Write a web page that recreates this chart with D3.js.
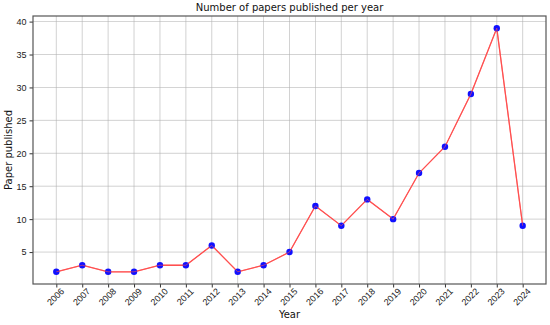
<!DOCTYPE html>
<html><head><meta charset="utf-8">
<script src="https://cdn.jsdelivr.net/npm/d3@7"></script>
<style>body{margin:0;background:#fff;}svg{display:block;font-family:"DejaVu Sans",sans-serif;}</style>
</head><body><svg id="c" width="550" height="325"></svg>
<script>
const years = [2006,2007,2008,2009,2010,2011,2012,2013,2014,2015,2016,2017,2018,2019,2020,2021,2022,2023,2024];
const papers = [2,3,2,2,3,3,6,2,3,5,12,9,13,10,17,21,29,39,9];
const yTicks = [5,10,15,20,25,30,35,40];

const svg = d3.select("#c");
const L=33,R=546,T=16,B=284;
const x = d3.scaleLinear().domain([2005.1,2024.9]).range([L,R]);
const y = d3.scaleLinear().domain([0.15,40.85]).range([B,T]);

// grid
svg.append("g").selectAll("line").data(years).join("line")
  .attr("x1",d=>x(d)).attr("x2",d=>x(d)).attr("y1",T).attr("y2",B)
  .attr("stroke","#b0b0b0").attr("stroke-width",0.8).attr("opacity",0.7);
svg.append("g").selectAll("line").data(yTicks).join("line")
  .attr("x1",L).attr("x2",R).attr("y1",d=>y(d)).attr("y2",d=>y(d))
  .attr("stroke","#b0b0b0").attr("stroke-width",0.8).attr("opacity",0.7);

// axes
const xa = svg.append("g").attr("transform",`translate(0,${B})`)
  .call(d3.axisBottom(x).tickValues(years).tickFormat(d3.format("d")).tickSize(3.5));
xa.select(".domain").remove();
xa.selectAll("line").attr("stroke","#333");
xa.selectAll("text").attr("font-size",9).attr("fill","#222")
  .attr("text-anchor","middle").attr("dy",null).attr("y",null)
  .attr("transform","translate(1,15) rotate(-45)");
const ya = svg.append("g").attr("transform",`translate(${L},0)`)
  .call(d3.axisLeft(y).tickValues(yTicks).tickSize(3.5).tickPadding(3));
ya.select(".domain").remove();
ya.selectAll("line").attr("stroke","#333");
ya.selectAll("text").attr("font-size",9).attr("fill","#222");

// frame
svg.append("rect").attr("x",L).attr("y",T).attr("width",R-L).attr("height",B-T)
  .attr("fill","none").attr("stroke","#555").attr("stroke-width",1.2);

// line
const pts = years.map((d,i)=>[d,papers[i]]);
svg.append("path").datum(pts)
  .attr("d",d3.line().x(d=>x(d[0])).y(d=>y(d[1])))
  .attr("fill","none").attr("stroke","#ff5050").attr("stroke-width",1.3);
svg.append("g").selectAll("circle").data(pts).join("circle")
  .attr("cx",d=>x(d[0])).attr("cy",d=>y(d[1])).attr("r",3.2).attr("fill","#1010ff");
svg.append("path").datum(pts)
  .attr("d",d3.line().x(d=>x(d[0])).y(d=>y(d[1])))
  .attr("fill","none").attr("stroke","#ff5050").attr("stroke-width",1).attr("opacity",0.6);

// labels
svg.append("text").attr("x",(L+R)/2).attr("y",11).attr("text-anchor","middle")
  .attr("font-size",10).attr("fill","#111").text("Number of papers published per year");
svg.append("text").attr("x",(L+R)/2).attr("y",318).attr("text-anchor","middle")
  .attr("font-size",10).attr("fill","#111").text("Year");
svg.append("text").attr("transform",`translate(12,${(T+B)/2}) rotate(-90)`).attr("text-anchor","middle")
  .attr("font-size",10).attr("fill","#111").text("Paper published");
</script></body></html>
